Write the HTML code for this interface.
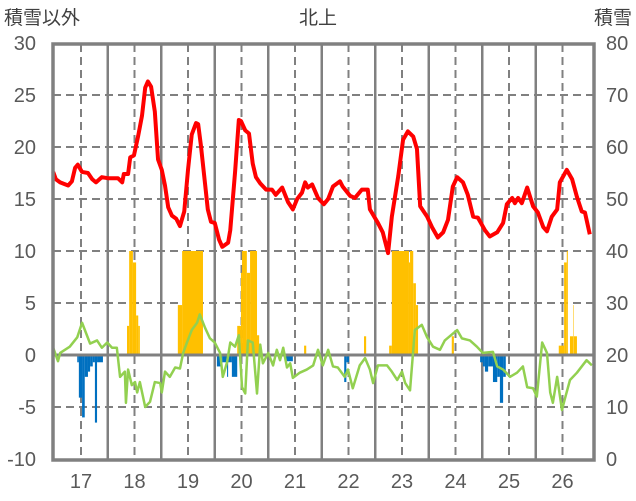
<!DOCTYPE html>
<html><head><meta charset="utf-8"><style>
html,body{margin:0;padding:0;background:#fff;}
svg{display:block;font-family:"Liberation Sans","Noto Sans CJK JP",sans-serif;}
</style></head><body>
<svg id="chart" width="636" height="501" viewBox="0 0 636 501" xmlns="http://www.w3.org/2000/svg">
<text x="4" y="24" font-size="19" fill="#404040">積雪以外</text>
<text x="318" y="24" font-size="19" fill="#404040" text-anchor="middle">北上</text>
<text x="632" y="24" font-size="19" fill="#404040" text-anchor="end">積雪</text>
<g id="grid"></g><g id="bars"></g><g id="lines"></g><g id="axes"></g>
</svg>
<script>
const leftTicks=[30,25,20,15,10,5,0,-5,-10];
const rightTicks=[80,70,60,50,40,30,20,10,0];
const yearLabels=[17,18,19,20,21,22,23,24,25,26];
const redSeries=[[16.48,17.6],[16.53,16.9],[16.61,16.6],[16.76,16.3],[16.83,16.7],[16.89,18],[16.94,18.3],[17.02,17.6],[17.13,17.5],[17.21,16.9],[17.28,16.6],[17.39,17.1],[17.5,17],[17.69,17],[17.77,16.6],[17.8,17.4],[17.88,17.4],[17.92,19],[17.99,19.2],[18.07,21.1],[18.14,23],[18.2,25.7],[18.25,26.3],[18.31,25.8],[18.38,23.4],[18.44,18.8],[18.51,17.8],[18.57,16.3],[18.63,14.2],[18.7,13.4],[18.78,13.1],[18.85,12.4],[18.93,13.8],[19,17.8],[19.07,21.2],[19.15,22.3],[19.19,22.2],[19.24,20.2],[19.32,16.4],[19.37,14],[19.43,12.8],[19.5,12.7],[19.58,11.1],[19.64,10.4],[19.75,10.8],[19.79,12],[19.88,17.6],[19.95,22.6],[19.99,22.5],[20.07,21.6],[20.14,21.3],[20.21,18.4],[20.27,17.1],[20.35,16.5],[20.46,15.9],[20.57,15.9],[20.64,15.4],[20.76,16.1],[20.87,14.7],[20.96,14],[21.04,15],[21.13,15.6],[21.19,16.6],[21.24,16.1],[21.32,16.4],[21.43,15.1],[21.54,14.5],[21.62,15],[21.71,16.2],[21.84,16.7],[21.89,16.2],[22.03,15.3],[22.12,15.1],[22.25,15.9],[22.36,15.9],[22.4,14],[22.55,12.7],[22.64,11.8],[22.74,9.8],[22.81,13.3],[22.93,17.2],[23.02,20.7],[23.11,21.5],[23.21,21],[23.28,19.8],[23.34,14.3],[23.47,13.3],[23.56,12.3],[23.67,11.3],[23.77,11.8],[23.86,13],[23.95,16.2],[24.03,17.1],[24.14,16.6],[24.23,15.4],[24.33,13.3],[24.42,13.2],[24.55,12],[24.64,11.4],[24.78,11.8],[24.89,12.7],[24.96,14.5],[25.06,15.1],[25.11,14.6],[25.17,15.1],[25.24,14.6],[25.34,16.1],[25.45,14.3],[25.54,13.7],[25.64,12.3],[25.71,11.9],[25.8,13.3],[25.9,14],[25.95,16.6],[26.08,17.8],[26.18,16.9],[26.27,15.2],[26.36,13.8],[26.42,13.7],[26.51,11.6]];
const greenSeries=[[16.48,0.7],[16.57,-0.6],[16.61,0.2],[16.79,0.8],[16.93,1.7],[17.02,3.1],[17.11,1.9],[17.17,1.1],[17.3,1.4],[17.39,0.7],[17.49,1.2],[17.58,0.7],[17.67,0.7],[17.73,-2.1],[17.82,-1.6],[17.84,-4.6],[17.88,-1.4],[17.95,-2.9],[18.01,-2.6],[18.05,-3.6],[18.1,-2.6],[18.2,-5],[18.29,-4.5],[18.38,-2.6],[18.48,-2.7],[18.51,-3.6],[18.57,-1.6],[18.66,-2.1],[18.76,-1.2],[18.85,-1.3],[18.91,0.2],[18.98,1.2],[19.07,2.4],[19.17,3.1],[19.22,3.9],[19.32,2.6],[19.41,1.6],[19.5,1.2],[19.6,0.2],[19.65,-2.1],[19.73,-0.7],[19.79,1.2],[19.88,0.8],[19.95,1.9],[20.01,-3.1],[20.07,-3.7],[20.12,1.4],[20.21,1.2],[20.29,-3.7],[20.35,1],[20.4,-0.8],[20.5,0.2],[20.59,-1],[20.66,0.5],[20.72,-0.5],[20.78,0.7],[20.85,-1.2],[20.91,-0.8],[20.96,-2.2],[21.09,-1.7],[21.22,-1.4],[21.34,-1],[21.43,0.5],[21.52,-1],[21.62,0.5],[21.71,-1.1],[21.8,-1.2],[21.93,-2.1],[21.99,-1.4],[22.08,-3.2],[22.21,-1],[22.31,-0.3],[22.4,-1.4],[22.46,-2.7],[22.55,-1],[22.72,-1],[22.81,-1.6],[22.91,-2.4],[23,-1.6],[23.06,-2.7],[23.15,-3.4],[23.24,2.4],[23.37,2.9],[23.47,1.7],[23.58,0.8],[23.71,0.5],[23.8,1.4],[24.03,2.4],[24.12,1.6],[24.27,1.4],[24.4,0.8],[24.51,0.2],[24.7,0.3],[24.78,-1.1],[24.89,-1.4],[25.02,-2.1],[25.15,-1.7],[25.26,-1.1],[25.34,-3.1],[25.45,-3.2],[25.52,-4],[25.62,1.2],[25.71,0.2],[25.77,-3.6],[25.82,-4.6],[25.9,-2.1],[25.99,-5.3],[26.04,-4.3],[26.14,-2.4],[26.27,-1.7],[26.36,-1.1],[26.45,-0.5],[26.55,-1]];
const orangeBars=[[17.86,17.9,2.8],[17.9,17.97,10],[17.97,18.03,8.9],[18.03,18.07,3.8],[18.07,18.1,2.8],[18.81,18.89,4.8],[18.89,19.28,10],[19.92,19.99,2.8],[19.99,20.01,7.9],[20.01,20.1,10],[20.1,20.16,7.9],[20.16,20.29,10],[20.29,20.33,1.9],[21.17,21.21,0.9],[22.29,22.33,1.8],[22.76,22.81,0.9],[22.81,23.13,10],[23.13,23.15,8.9],[23.15,23.21,10],[23.21,23.26,6.9],[23.26,23.3,4.8],[23.93,23.97,1.8],[25.93,26.03,0.9],[26.03,26.08,8.9],[26.08,26.1,10],[26.14,26.2,1.8],[26.2,26.21,4.8],[26.21,26.27,1.8]];
const blueBars=[[16.93,16.96,-0.7],[16.96,17.02,-4.1],[17.02,17.07,-6],[17.07,17.13,-2.1],[17.13,17.17,-1.6],[17.17,17.22,-1.1],[17.22,17.26,-0.7],[17.26,17.3,-6.5],[17.3,17.41,-0.7],[19.54,19.64,-1.1],[19.64,19.73,-0.7],[19.73,19.75,-2.1],[19.75,19.82,-0.7],[19.82,19.92,-2.1],[20.83,20.96,-0.6],[21.92,21.96,-2.6],[21.96,22.01,-0.7],[24.46,24.51,-0.7],[24.51,24.55,-1.1],[24.55,24.61,-1.6],[24.61,24.7,-1.1],[24.7,24.78,-2.6],[24.78,24.83,-2.1],[24.83,24.89,-4.6],[24.89,24.94,-2.1]];

const NS='http://www.w3.org/2000/svg';
const L=53,R=594,T=44,B=460;
function xs(t){return 81+(t-17)*53.5;}
function ys(v){return 355-v*10.4;}
function mk(tag,attrs,parent){const e=document.createElementNS(NS,tag);for(const k in attrs)e.setAttribute(k,attrs[k]);parent.appendChild(e);return e;}
const grid=document.getElementById('grid'),bars=document.getElementById('bars'),lines=document.getElementById('lines'),axes=document.getElementById('axes');
leftTicks.forEach((v,i)=>{
  if(v!==0&&v!==30&&v!==-10){const g=mk('line',{x1:L,x2:R,y1:ys(v),y2:ys(v),stroke:'#808080','stroke-width':2,'stroke-dasharray':'8,5'},grid);
  
  }
  const t=mk('text',{x:36,y:ys(v)+7,'font-size':20,fill:'#595959','text-anchor':'end'},axes);t.textContent=v;
  
  
  const r=mk('text',{x:606,y:ys(v)+7,'font-size':20,fill:'#595959'},axes);r.textContent=rightTicks[i];
  
  
});
yearLabels.forEach(y=>{
  const d=mk('line',{x1:xs(y),x2:xs(y),y1:T,y2:B,stroke:'#808080','stroke-width':2,'stroke-dasharray':'8,5'},grid);
  
  
  if(y<26){const s=mk('line',{x1:xs(y+0.5),x2:xs(y+0.5),y1:T,y2:B,stroke:'#808080','stroke-width':2.5},grid);
  
  }
  const t=mk('text',{x:xs(y),y:488,'font-size':20,fill:'#595959','text-anchor':'middle'},axes);t.textContent=y;
  
  
});
orangeBars.forEach(b=>{const r=mk('rect',{x:xs(b[0]),width:xs(b[1])-xs(b[0]),y:ys(b[2]),height:ys(0)-ys(b[2]),fill:'#ffc000'},bars);
  
  });
blueBars.forEach(b=>{const r=mk('rect',{x:xs(b[0]),width:xs(b[1])-xs(b[0]),y:ys(0),height:ys(b[2])-ys(0),fill:'#0070c0'},bars);
  
  });
const zl=mk('line',{x1:L,x2:R,y1:ys(0),y2:ys(0),stroke:'#808080','stroke-width':3},lines);


const gp=mk('polyline',{points:greenSeries.map(p=>xs(p[0])+','+ys(p[1])).join(' '),fill:'none',stroke:'#92d050','stroke-width':2.5,'stroke-linejoin':'round'},lines);


const rp=mk('polyline',{points:redSeries.map(p=>xs(p[0])+','+ys(p[1])).join(' '),fill:'none',stroke:'#ff0000','stroke-width':4,'stroke-linejoin':'round'},lines);


const fr=mk('rect',{x:L,y:T,width:R-L,height:B-T,fill:'none',stroke:'#808080','stroke-width':3.5},axes);


</script>
</body></html>
